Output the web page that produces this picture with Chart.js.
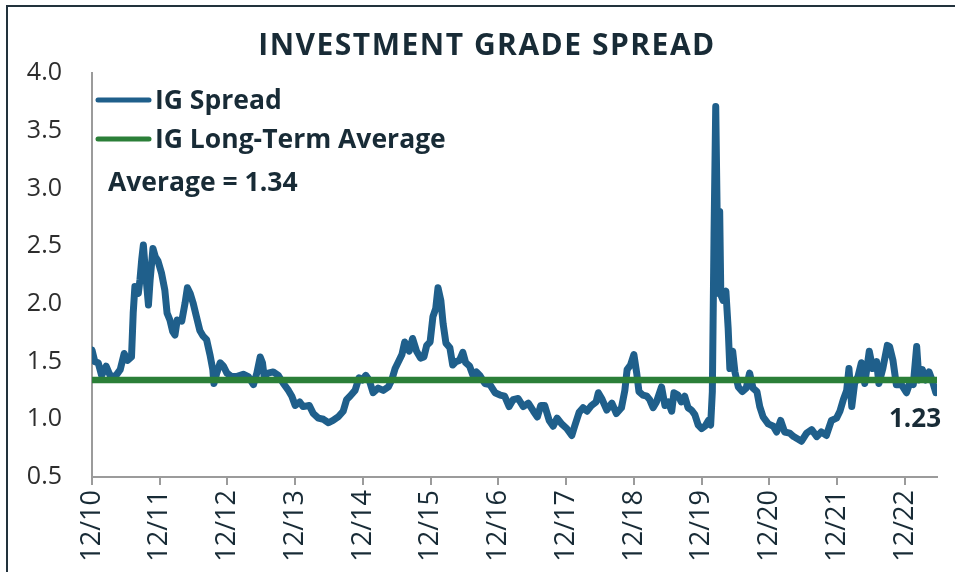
<!DOCTYPE html>
<html>
<head>
    <title>Investment Grade Spread</title>
    <script src="https://cdn.jsdelivr.net/npm/chart.js"></script>
    <style>
        body { margin: 0; background: #ffffff; }
        canvas { display: block; }
    </style>
</head>
<body>
    <canvas id="spreadChart" width="955" height="572" style="width: 955px; height: 572px;"></canvas>
<script>
// months after Dec 2010
const months = [
    0, 0.5, 1.1, 1.7, 2.5, 3.2, 4.1, 5.0, 5.7, 6.3, 7.0, 7.3, 7.6, 8.2, 8.5, 8.8, 9.1, 9.4, 10.0, 10.3,
    10.8, 11.2, 11.7, 12.3, 12.9, 13.3, 13.8, 14.3, 14.7, 15.1, 15.9, 16.5, 16.9, 17.4, 17.9, 18.5, 19.1, 19.7, 20.3, 20.9,
    21.4, 21.6, 22.1, 22.7, 23.3, 23.9, 24.7, 25.6, 26.8, 27.7, 28.6, 29.2, 29.8, 30.2, 30.5, 31.2, 32.1, 33.0, 33.9, 34.8,
    35.4, 36.0, 36.8, 37.4, 38.5, 39.2, 40.1, 41.0, 41.9, 42.7, 43.6, 44.5, 45.1, 45.7, 46.6, 47.3, 47.9, 48.5, 49.1, 49.8,
    50.7, 51.6, 52.5, 53.1, 53.7, 54.2, 54.9, 55.4, 56.2, 56.8, 57.5, 58.2, 58.8, 59.3, 59.9, 60.4, 60.9, 61.3, 61.8, 62.2,
    62.7, 63.4, 63.9, 64.5, 65.1, 65.7, 66.2, 66.9, 67.5, 68.1, 68.7, 69.6, 70.5, 71.4, 72.3, 73.1, 73.9, 74.6, 75.5, 76.4,
    77.3, 78.2, 78.9, 79.5, 80.2, 81.0, 81.7, 82.4, 83.2, 84.1, 85.0, 85.5, 86.3, 87.0, 87.7, 88.5, 89.3, 89.7, 90.3, 91.2,
    92.1, 92.9, 93.8, 94.4, 94.8, 95.4, 96.0, 96.5, 96.9, 97.6, 98.3, 98.8, 99.4, 100.0, 100.9, 101.5, 102.1, 102.7, 103.1, 103.8,
    104.4, 105.0, 105.6, 106.2, 106.8, 107.4, 108.0, 108.6, 109.2, 109.6, 109.9, 110.2, 110.5, 110.8, 111.0, 111.2, 111.4, 111.8, 112.3, 112.7,
    113.0, 113.5, 113.9, 114.5, 115.2, 115.9, 116.5, 117.1, 117.8, 118.3, 118.9, 119.8, 120.7, 121.3, 122.0, 122.7, 123.6, 124.3, 125.7, 126.6,
    127.5, 128.4, 129.2, 130.1, 131.0, 131.9, 132.5, 133.1, 133.7, 134.1, 134.6, 135.1, 135.7, 136.3, 136.9, 137.7, 138.3, 139.0, 139.4, 140.1,
    140.9, 141.3, 141.9, 142.5, 143.4, 144.3, 145.0, 145.5, 146.1, 146.5, 147.1, 147.7, 148.3, 148.9, 149.5
];
const spread = [
    1.60, 1.50, 1.49, 1.38, 1.46, 1.38, 1.37, 1.43, 1.57, 1.51, 1.54, 1.92, 2.15, 2.09, 2.21, 2.38, 2.51, 2.32, 1.99, 2.21,
    2.48, 2.41, 2.37, 2.27, 2.12, 1.92, 1.86, 1.76, 1.73, 1.86, 1.85, 2.01, 2.14, 2.09, 2.01, 1.89, 1.77, 1.72, 1.69, 1.56,
    1.43, 1.31, 1.40, 1.49, 1.46, 1.40, 1.37, 1.37, 1.39, 1.37, 1.30, 1.40, 1.54, 1.49, 1.37, 1.40, 1.41, 1.38, 1.31, 1.25,
    1.20, 1.12, 1.15, 1.11, 1.12, 1.05, 1.01, 1.00, 0.97, 0.99, 1.02, 1.07, 1.17, 1.20, 1.25, 1.36, 1.34, 1.38, 1.34, 1.23,
    1.27, 1.25, 1.28, 1.34, 1.44, 1.49, 1.56, 1.67, 1.59, 1.70, 1.59, 1.53, 1.54, 1.64, 1.67, 1.89, 1.96, 2.14, 2.03, 1.83,
    1.66, 1.62, 1.47, 1.50, 1.51, 1.58, 1.49, 1.46, 1.38, 1.41, 1.38, 1.31, 1.30, 1.23, 1.21, 1.20, 1.11, 1.17, 1.18, 1.11,
    1.14, 1.07, 1.02, 1.12, 1.12, 0.99, 0.94, 1.01, 0.96, 0.92, 0.86, 0.94, 1.06, 1.10, 1.07, 1.12, 1.15, 1.23, 1.18, 1.08,
    1.14, 1.05, 1.10, 1.25, 1.43, 1.47, 1.56, 1.40, 1.24, 1.21, 1.20, 1.17, 1.10, 1.15, 1.28, 1.12, 1.15, 1.07, 1.23, 1.21,
    1.15, 1.20, 1.10, 1.08, 1.04, 0.95, 0.92, 0.94, 0.99, 0.95, 1.24, 2.60, 3.71, 2.60, 2.09, 2.80, 2.08, 2.03, 2.11, 1.79,
    1.44, 1.59, 1.41, 1.28, 1.24, 1.27, 1.40, 1.27, 1.24, 1.11, 1.02, 0.96, 0.94, 0.89, 0.99, 0.89, 0.88, 0.85, 0.81, 0.88,
    0.91, 0.85, 0.89, 0.86, 0.99, 1.01, 1.07, 1.17, 1.25, 1.44, 1.11, 1.31, 1.37, 1.49, 1.31, 1.59, 1.44, 1.50, 1.31, 1.44,
    1.64, 1.63, 1.51, 1.30, 1.30, 1.23, 1.33, 1.30, 1.63, 1.34, 1.43, 1.34, 1.41, 1.33, 1.23
];
const avgValue = 1.34;
const tickLabels = ['12/10', '12/11', '12/12', '12/13', '12/14', '12/15', '12/16', '12/17', '12/18', '12/19', '12/20', '12/21', '12/22'];
const yTicks = [0.5, 1.0, 1.5, 2.0, 2.5, 3.0, 3.5, 4.0];

const lastMonth = 149.7;
const navy = '#182b36';
const blue = '#1f5f8b';
const green = '#2b7f38';

// frame, title, legend and notes drawn on the canvas
const overlay = {
    id: 'overlay',
    beforeDraw(chart) {
        const ctx = chart.ctx;
        ctx.save();
        ctx.fillStyle = '#22323c';
        ctx.fillRect(6, 5, chart.width - 6, 2);
        ctx.fillRect(6, 5, 2, chart.height - 5);
        ctx.fillStyle = navy;
        ctx.font = 'bold 30px "Open Sans"';
        ctx.letterSpacing = '1.5px';
        ctx.textAlign = 'center';
        ctx.textBaseline = 'middle';
        ctx.fillText('INVESTMENT GRADE SPREAD', 487, 46);
        ctx.restore();
    },
    afterDatasetsDraw(chart) {
        const ctx = chart.ctx;
        const area = chart.chartArea;
        const y = chart.scales.y;
        const sets = chart.data.datasets;
        ctx.save();
        ctx.font = 'bold 26.5px "Open Sans"';
        ctx.textBaseline = 'middle';
        ctx.lineCap = 'round';
        [[sets[1], 27], [sets[0], 66]].forEach(function (item) {
            const ds = item[0];
            const ly = area.top + item[1];
            ctx.strokeStyle = ds.borderColor;
            ctx.lineWidth = 5;
            ctx.beginPath();
            ctx.moveTo(area.left + 6, ly);
            ctx.lineTo(area.left + 57, ly);
            ctx.stroke();
            ctx.fillStyle = navy;
            ctx.fillText(ds.label, area.left + 63, ly + 1);
        });
        ctx.fillText('Average = ' + avgValue.toFixed(2), area.left + 16, area.top + 110);
        const last = spread[spread.length - 1];
        ctx.textAlign = 'right';
        ctx.font = 'bold 26px "Open Sans"';
        ctx.fillText(last.toFixed(2), chart.width - 14, y.getPixelForValue(last) + 27);
        ctx.restore();
    }
};

const ctx = document.getElementById('spreadChart').getContext('2d');
const spreadChart = new Chart(ctx, {
    type: 'line',
    data: {
        datasets: [{
            label: 'IG Long-Term Average',
            data: [{ x: 0, y: avgValue }, { x: lastMonth, y: avgValue }],
            borderColor: green,
            borderWidth: 6.5,
            pointRadius: 0,
            order: 0
        }, {
            label: 'IG Spread',
            data: months.map((m, i) => ({ x: m, y: spread[i] })),
            borderColor: blue,
            borderWidth: 7,
            borderJoinStyle: 'round',
            borderCapStyle: 'round',
            pointRadius: 0,
            tension: 0,
            order: 1
        }]
    },
    options: {
        responsive: false,
        animation: false,
        events: [],
        layout: { padding: { left: 0, right: 18, top: 73, bottom: 0 } },
        plugins: {
            legend: { display: false },
            tooltip: { enabled: false },
            title: { display: false }
        },
        scales: {
            x: {
                type: 'linear',
                min: 0,
                max: lastMonth,
                afterBuildTicks: function (scale) {
                    scale.ticks = tickLabels.map((t, i) => ({ value: i * 12 }));
                },
                afterFit: function (scale) { scale.height = 95; },
                border: { display: true, color: '#9b9b9b', width: 2 },
                grid: { display: true, drawOnChartArea: false, drawTicks: true, tickLength: 8, color: '#9b9b9b', lineWidth: 2 },
                ticks: {
                    autoSkip: false,
                    minRotation: 90,
                    maxRotation: 90,
                    padding: 5,
                    color: navy,
                    font: { family: 'Open Sans', size: 27 },
                    callback: function (value) { return tickLabels[Math.round(value / 12)]; }
                }
            },
            y: {
                min: 0.5,
                max: 4.0,
                afterBuildTicks: function (scale) {
                    scale.ticks = yTicks.map(v => ({ value: v }));
                },
                afterFit: function (scale) { scale.width = 92; },
                border: { display: true, color: '#9b9b9b', width: 2 },
                grid: { display: false, drawTicks: false },
                ticks: {
                    padding: 30,
                    color: '#2d2d2d',
                    font: { family: 'Open Sans', size: 25 },
                    callback: function (value) { return value.toFixed(1); }
                }
            }
        }
    },
    plugins: [overlay]
});
</script>
</body>
</html>
